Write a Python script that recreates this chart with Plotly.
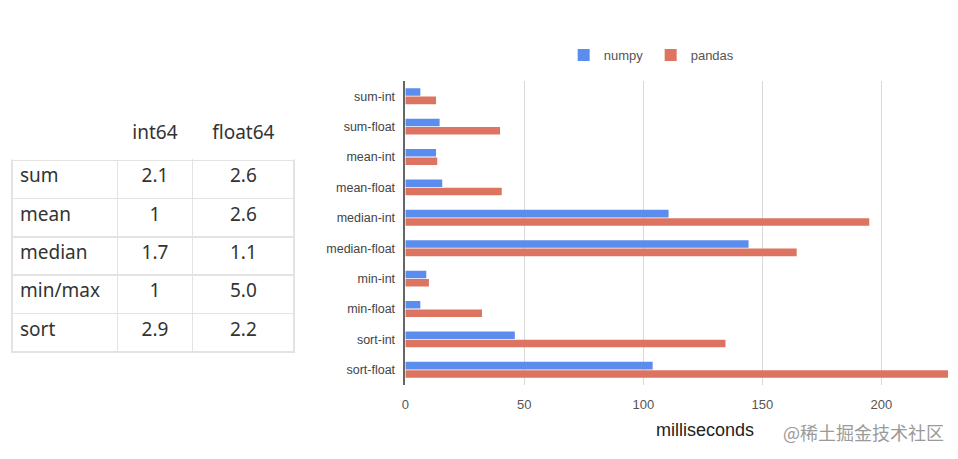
import plotly.graph_objects as go

# ---- data ----
categories = ["sum-int", "sum-float", "mean-int", "mean-float", "median-int",
              "median-float", "min-int", "min-float", "sort-int", "sort-float"]
numpy_ms = [6.3, 14.4, 12.9, 15.5, 110.6, 144.2, 8.8, 6.3, 46.0, 103.9]
pandas_ms = [12.9, 39.8, 13.4, 40.5, 194.9, 164.4, 9.9, 32.2, 134.5, 229.0]

table_header = ["", "int64", "float64"]
table_ops = ["sum", "mean", "median", "min/max", "sort"]
table_int64 = ["2.1", "1", "1.7", "1", "2.9"]
table_float64 = ["2.6", "2.6", "1.1", "5.0", "2.2"]

OFF = 8  # page body margin
W, H = 958 - OFF, 459 - OFF
def px(x):
    return max(0.0, (x - OFF) / W)
def py(y):
    return min(1.0, 1 - (y - OFF) / H)

BLUE = "#5b8def"
RED = "#dd7461"

fig = go.Figure()

fig.add_trace(go.Table(
    domain=dict(x=[px(8), px(292)], y=[0, py(117)]),
    columnwidth=[106, 76, 102],
    header=dict(values=table_header,
                fill_color="white",
                line=dict(color="rgba(0,0,0,0)", width=0),
                align=["left", "center", "center"],
                font=dict(family="Noto Sans", size=19, color="#333"),
                height=43),
    cells=dict(values=[table_ops, table_int64, table_float64],
               fill_color="white",
               line=dict(color="#e3e3e3", width=1.5),
               align=["left", "center", "center"],
               font=dict(family="Noto Sans", size=19, color="#333"),
               height=38.4),
))

fig.add_trace(go.Bar(y=categories, x=numpy_ms, orientation="h", name="numpy",
                     marker=dict(color=BLUE, line=dict(width=0))))
fig.add_trace(go.Bar(y=categories, x=pandas_ms, orientation="h", name="pandas",
                     marker=dict(color=RED, line=dict(width=0))))

fig.update_layout(
    width=W, height=H, autosize=False,
    margin=dict(l=0, r=0, t=0, b=0),
    paper_bgcolor="white", plot_bgcolor="white",
    barmode="group", bargap=0.45, bargroupgap=0.1,
    font=dict(family="Liberation Sans, Arial", size=12, color="#444"),
    xaxis=dict(domain=[px(403), px(948)], range=[0, 228],
               tickvals=[0, 50, 100, 150, 200],
               showgrid=True, gridcolor="#d9d9d9", gridwidth=1,
               zeroline=False, showline=False,
               tickfont=dict(size=13, color="#555"),
               ticklabelstandoff=10),
    yaxis=dict(domain=[py(385), py(81)], autorange="reversed",
               showgrid=False, zeroline=False,
               showline=True, linecolor="#666", linewidth=1.5,
               tickfont=dict(size=12.5, color="#444"),
               ticklabelstandoff=6),
    legend=dict(orientation="h", x=px(562), y=py(40), xanchor="left", yanchor="top",
                font=dict(size=13, color="#555"), entrywidth=42,
                bgcolor="rgba(0,0,0,0)"),
    showlegend=True,
)

fig.add_annotation(text="milliseconds", x=px(704), y=py(430), xref="paper", yref="paper",
                   showarrow=False, xanchor="center", yanchor="middle",
                   font=dict(family="Liberation Sans, Arial", size=18, color="#222"))
fig.add_annotation(text="@稀土掘金技术社区", x=px(946), y=py(432), xref="paper", yref="paper",
                   showarrow=False, xanchor="right", yanchor="middle",
                   font=dict(family="Noto Sans CJK SC", size=18, color="#9a9a9a"))

fig.write_html("out.html")
